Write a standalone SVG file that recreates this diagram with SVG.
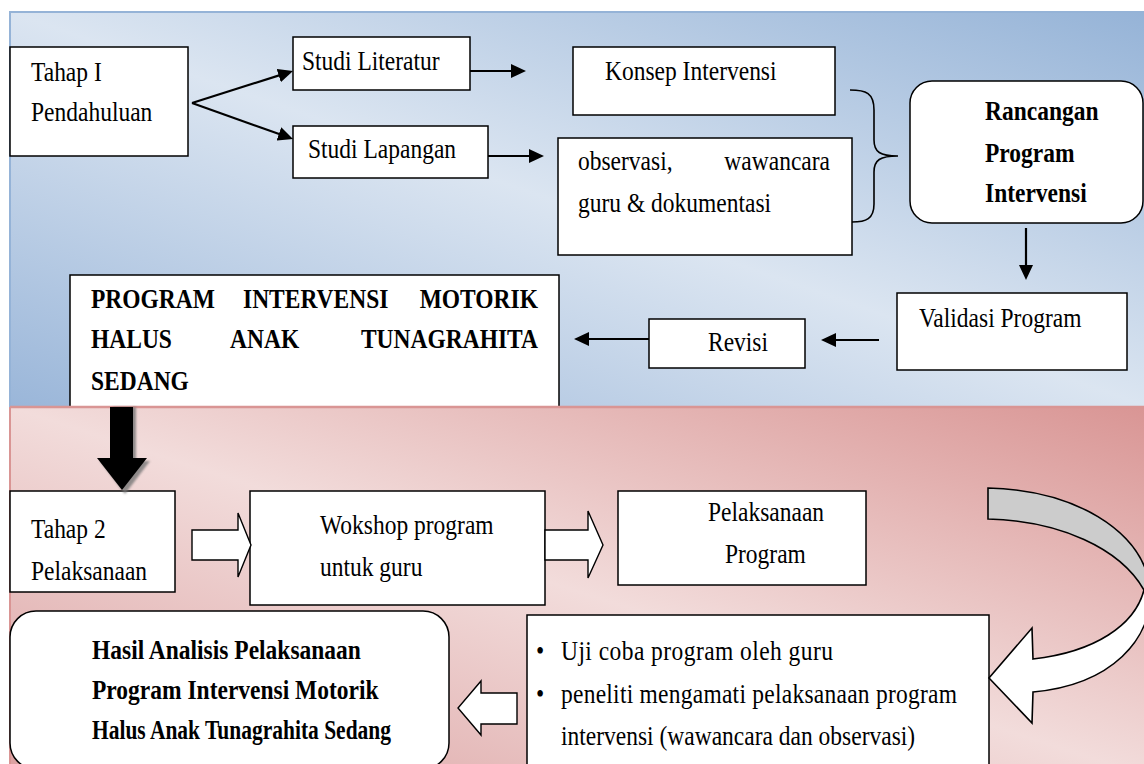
<svg xmlns="http://www.w3.org/2000/svg" width="1144" height="764" viewBox="0 0 1144 764">
<defs>
<linearGradient id="gBlue" x1="1" y1="0" x2="0" y2="1">
<stop offset="0" stop-color="#95b3d7"/>
<stop offset="0.5" stop-color="#dbe5f1"/>
<stop offset="1" stop-color="#9ab6d9"/>
</linearGradient>
<linearGradient id="gPink" x1="1" y1="0" x2="0" y2="1">
<stop offset="0" stop-color="#d99594"/>
<stop offset="0.5" stop-color="#f2dcdb"/>
<stop offset="1" stop-color="#dba0a0"/>
</linearGradient>
<marker id="ah" markerWidth="15" markerHeight="14" refX="7" refY="7" orient="auto" markerUnits="userSpaceOnUse" viewBox="0 0 15 14">
<path d="M0,0 L15,7 L0,14 Z" fill="#000"/>
</marker>
<filter id="blur" x="-20%" y="-20%" width="140%" height="140%"><feGaussianBlur stdDeviation="1.2"/></filter>
</defs>
<style>
.box{fill:#fff;stroke:#000;stroke-width:1.5}
.t{font-family:"Liberation Serif","Times New Roman",serif;font-size:23.5px;fill:#000}
.b{font-weight:bold}
.ln{stroke:#000;stroke-width:2.2;fill:none}
.ho{fill:#fff;stroke:#000;stroke-width:1.4;stroke-linejoin:miter}
</style>
<rect width="1144" height="764" fill="#fff"/>
<rect id="panel-top" x="10" y="12" width="1140" height="395" fill="url(#gBlue)" stroke="#95b3d7" stroke-width="2"/>

<g id="tahap1"><rect class="box" x="10" y="47" width="178" height="109"/>
<g transform="scale(1,1.12)"><text class="t" x="31" y="72.3">Tahap I</text><text class="t" x="31" y="108">Pendahuluan</text></g></g>
<g id="studi-literatur"><rect class="box" x="293" y="37" width="177" height="53"/>
<g transform="scale(1,1.12)"><text class="t" x="302" y="62.5">Studi Literatur</text></g></g>
<g id="studi-lapangan"><rect class="box" x="293" y="126" width="195" height="52"/>
<g transform="scale(1,1.12)"><text class="t" x="308" y="141">Studi Lapangan</text></g></g>
<g id="konsep"><rect class="box" x="573" y="47" width="262" height="68"/>
<g transform="scale(1,1.12)"><text class="t" x="605" y="71.4">Konsep Intervensi</text></g></g>
<g id="observasi"><rect class="box" x="558" y="138" width="294" height="117"/>
<g transform="scale(1,1.12)"><text class="t" x="578" y="151.8">observasi,</text><text class="t" x="830" y="151.8" text-anchor="end">wawancara</text>
<text class="t" x="578" y="189.3">guru &amp; dokumentasi</text></g></g>
<g id="brace"><path d="M850,90 C866,90 874,93 874,110 L874,140 C874,152 880,156 898,156 C880,156 874,160 874,172 L874,204 C874,219 866,222 852,222" fill="none" stroke="#000" stroke-width="1.6"/></g>
<g id="rancangan"><rect class="box" x="910" y="81" width="233" height="142" rx="22" ry="22"/>
<g transform="scale(1,1.12)"><text class="t b" x="985" y="107.1">Rancangan</text><text class="t b" x="985" y="144.6">Program</text><text class="t b" x="985" y="180.4">Intervensi</text></g></g>
<g id="validasi"><rect class="box" x="897" y="293" width="230" height="77"/>
<g transform="scale(1,1.12)"><text class="t" x="919" y="292">Validasi Program</text></g></g>
<g id="revisi"><rect class="box" x="649" y="319" width="156" height="49"/>
<g transform="scale(1,1.12)"><text class="t" x="708" y="313.4">Revisi</text></g></g>
<g id="program-intervensi"><rect class="box" x="70" y="275" width="489" height="140"/>
<g transform="scale(1,1.12)"><text class="t b" x="91" y="275">PROGRAM</text><text class="t b" x="243" y="275">INTERVENSI</text><text class="t b" x="538" y="275" text-anchor="end">MOTORIK</text>
<text class="t b" x="91" y="310.7">HALUS</text><text class="t b" x="230" y="310.7">ANAK</text><text class="t b" x="538" y="310.7" text-anchor="end">TUNAGRAHITA</text>
<text class="t b" x="91" y="348.2">SEDANG</text></g></g>

<rect id="panel-bottom" x="10" y="407" width="1140" height="370" fill="url(#gPink)"/>
<line x1="10" y1="407" x2="1144" y2="407" stroke="#d99594" stroke-width="2.5"/>
<line x1="10" y1="407" x2="10" y2="764" stroke="#d99594" stroke-width="2"/>

<g id="tahap2"><rect class="box" x="10" y="491" width="165" height="101"/>
<g transform="scale(1,1.12)"><text class="t" x="31" y="480.4">Tahap 2</text><text class="t" x="31" y="517.9">Pelaksanaan</text></g></g>
<g id="wokshop"><rect class="box" x="250" y="491" width="295" height="114"/>
<g transform="scale(1,1.12)"><text class="t" x="320" y="476.8">Wokshop program</text><text class="t" x="320" y="514.3">untuk guru</text></g></g>
<g id="pelaksanaan"><rect class="box" x="618" y="491" width="248" height="94"/>
<g transform="scale(1,1.12)"><text class="t" x="708" y="465.2">Pelaksanaan</text><text class="t" x="725" y="502.7">Program</text></g></g>
<g id="uji-coba"><rect class="box" x="527" y="615" width="462" height="170"/>
<g transform="scale(1,1.12)"><text class="t" x="536" y="589.3">•</text><text class="t" x="561" y="589.3" textLength="272" lengthAdjust="spacing">Uji coba program oleh guru</text>
<text class="t" x="536" y="627.7">•</text><text class="t" x="561" y="627.7" textLength="396" lengthAdjust="spacing">peneliti mengamati pelaksanaan program</text>
<text class="t" x="561" y="665.2">intervensi (wawancara dan observasi)</text></g></g>
<g id="hasil"><rect class="box" x="10" y="611" width="439" height="158" rx="26" ry="26"/>
<g transform="scale(1,1.12)"><text class="t b" x="92" y="588.4">Hasil Analisis Pelaksanaan</text>
<text class="t b" x="92" y="624.1">Program Intervensi Motorik</text>
<text class="t b" x="92" y="659.8" textLength="299" lengthAdjust="spacingAndGlyphs">Halus Anak Tunagrahita Sedang</text></g></g>

<g id="connectors">
<line class="ln" x1="192" y1="103" x2="285.4" y2="73.4" marker-end="url(#ah)"/>
<line class="ln" x1="192" y1="103" x2="285.5" y2="136.3" marker-end="url(#ah)"/>
<line class="ln" x1="470" y1="71" x2="518" y2="71" marker-end="url(#ah)"/>
<line class="ln" x1="488" y1="156" x2="536" y2="156" marker-end="url(#ah)"/>
<line class="ln" x1="1026" y1="228" x2="1026" y2="272" marker-end="url(#ah)"/>
<line class="ln" x1="879" y1="340" x2="829" y2="340" marker-end="url(#ah)"/>
<line class="ln" x1="649" y1="339" x2="582" y2="339" marker-end="url(#ah)"/>
<path d="M113,407 L136,407 L136,461 L150,461 L125,494 L100,461 L113,461 Z" fill="#777" opacity="0.8" filter="url(#blur)"/>
<path d="M110,407 L133,407 L133,458 L147,458 L122,490 L97,458 L110,458 Z" fill="#000"/>
<path class="ho" d="M192,530 L238,530 L238,513 L251,545 L238,577 L238,560 L192,560 Z"/>
<path class="ho" d="M545,530 L588,530 L588,511 L603,545 L588,578 L588,560 L545,560 Z"/>
<path class="ho" d="M517,693 L481,693 L481,681 L458,708 L481,735 L481,724 L517,724 Z"/>
<path d="M988,488 C1075,490 1140,530 1150,585 L1144,590 C1120,548 1060,521 988,519 Z" fill="#cccccc" stroke="#000" stroke-width="1.6"/>
<path d="M1144,590 L1150,585 C1155,640 1110,685 1033,692 L1032,723 L989,678 L1032,628 L1033,659 C1095,652 1135,625 1144,590 Z" fill="#fff" stroke="#000" stroke-width="1.6"/>
</g>
</svg>
